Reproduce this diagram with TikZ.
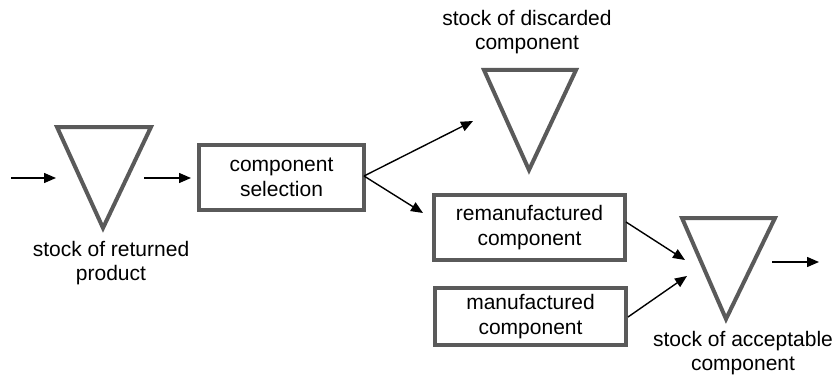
\documentclass[tikz,border=0pt]{standalone}
\usepackage{fontspec}
\setmainfont{Liberation Sans}
\usetikzlibrary{arrows.meta}
\definecolor{boxgray}{RGB}{90,90,90}
\tikzset{
  stockshape/.style={draw=boxgray, line width=4pt, line join=miter},
  procbox/.style={draw=boxgray, line width=4pt, inner sep=0pt, align=center, font=\fontsize{21}{25}\selectfont},
  lbl/.style={inner sep=0pt, align=center, font=\fontsize{21}{24}\selectfont},
  flow/.style={draw=black, line width=1.4pt, -{Triangle[length=12pt,width=10pt]}}
}
\begin{document}
\begin{tikzpicture}[x=1pt,y=-1pt]
\useasboundingbox (0,0) rectangle (837,377);
% stock triangles
\coordinate (t1a) at (57,127); \coordinate (t1b) at (151,127); \coordinate (t1c) at (103,228);
\coordinate (t2a) at (484,70); \coordinate (t2b) at (576,70); \coordinate (t2c) at (529,170);
\coordinate (t3a) at (682,218); \coordinate (t3b) at (775,218); \coordinate (t3c) at (726,319);
\draw[stockshape] (t1a) -- (t1b) -- (t1c) -- cycle;
\draw[stockshape] (t2a) -- (t2b) -- (t2c) -- cycle;
\draw[stockshape] (t3a) -- (t3b) -- (t3c) -- cycle;
% labels
\node[lbl] (lret) at (111,263) {stock of returned\\product};
\node[lbl] (ldis) at (527,32) {stock of discarded\\component};
\node[lbl] (lacc) at (743,353.5) {stock of acceptable\\component};
% boxes
\node[procbox, minimum width=165pt, minimum height=65pt] (sel) at (281.5,177.5) {component\\selection};
\node[procbox, minimum width=191pt, minimum height=65pt] (reman) at (529.5,227.5) {remanufactured\\component};
\node[procbox, minimum width=191pt, minimum height=57pt] (man) at (530.5,316.5) {manufactured\\component};
% arrow end points
\coordinate (in0) at (11,178); \coordinate (in1) at (56,178);
\coordinate (o1) at (144,178); \coordinate (o1e) at (191,178);
\coordinate (selout) at (364,176);
\coordinate (disin) at (473,121);
\coordinate (remin) at (423,213);
\coordinate (remout) at (626,222); \coordinate (accin1) at (685,260);
\coordinate (manout) at (628,317); \coordinate (accin2) at (687,276);
\coordinate (acco) at (772,262); \coordinate (accoe) at (819,262);
% connectors
\draw[flow] (in0) -- (in1);
\draw[flow] (o1) -- (o1e);
\draw[flow] (selout) -- (disin);
\draw[flow] (selout) -- (remin);
\draw[flow] (remout) -- (accin1);
\draw[flow] (manout) -- (accin2);
\draw[flow] (acco) -- (accoe);
\end{tikzpicture}
\end{document}
